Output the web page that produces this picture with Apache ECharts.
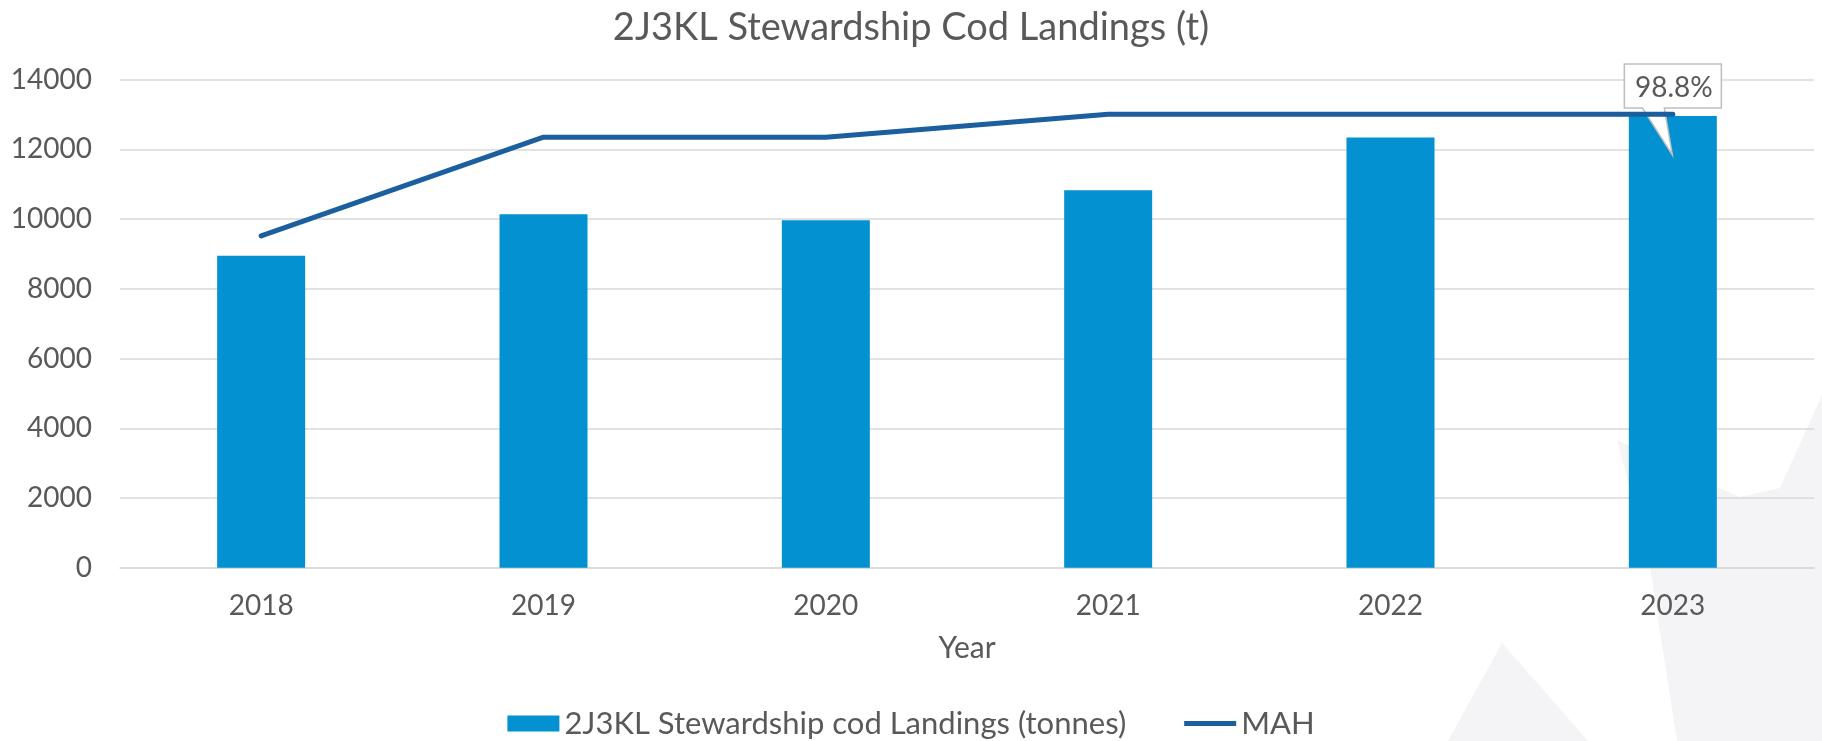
<!DOCTYPE html>
<html>
<head>
<meta charset="utf-8">
<script src="https://cdn.jsdelivr.net/npm/echarts@6/dist/echarts.min.js"></script>
<style>
  html, body { margin: 0; padding: 0; background: #fff; }
  #main { width: 1822px; height: 741px; }
</style>
</head>
<body>
<div id="main"></div>
<script>
// data
const years = ['2018', '2019', '2020', '2021', '2022', '2023'];
const landings = [8950, 10140, 9970, 10830, 12340, 12960];
const mah = [9520, 12350, 12350, 13010, 13010, 13010];
const yTicks = { min: 0, max: 14000, interval: 2000 };
// callout on the last bar
const calloutYear = '2023';
const calloutValue = 11840;
const calloutText = '98.8%';

const FONT = 'Lato';
const TXT = '#595959';

const chart = echarts.init(document.getElementById('main'));

chart.setOption({
  animation: false,
  backgroundColor: '#fff',
  textStyle: { fontFamily: FONT, color: TXT },
  // faint watermark shapes behind the plot
  graphic: [
    {
      type: 'polygon', z: -10, silent: true,
      shape: { points: [[1617, 440], [1700, 480], [1740, 497], [1780, 488], [1822, 395], [1822, 741], [1677, 741], [1650, 567]] },
      style: { fill: '#f4f4f6' }
    },
    {
      type: 'polygon', z: -10, silent: true,
      shape: { points: [[1502, 643], [1588, 741], [1448, 741]] },
      style: { fill: '#f4f4f6' }
    }
  ],
  title: {
    text: '2J3KL Stewardship Cod Landings (t)',
    left: 'center',
    top: 4,
    textStyle: { fontFamily: FONT, fontSize: 38, fontWeight: 'normal', color: TXT }
  },
  legend: {
    top: 703,
    left: 'center',
    itemWidth: 52,
    itemHeight: 16,
    itemGap: 58,
    textStyle: { fontFamily: FONT, fontSize: 31, color: TXT },
    data: [
      { name: '2J3KL Stewardship cod Landings (tonnes)', icon: 'rect' },
      { name: 'MAH', icon: 'path://M0,0L52,0L52,5L0,5Z', itemStyle: { color: '#1b5f9e' } }
    ]
  },
  grid: {
    left: 120, right: 8, top: 79.7, bottom: 173.3,
    containLabel: false,
    outerBoundsMode: 'none'
  },
  xAxis: {
    type: 'category',
    data: years,
    name: 'Year',
    nameLocation: 'middle',
    nameGap: 66,
    nameTextStyle: { fontFamily: FONT, fontSize: 30, color: TXT },
    axisTick: { show: false },
    axisLine: { lineStyle: { color: '#d9d9d9', width: 1.5 } },
    axisLabel: { fontFamily: FONT, fontSize: 28, color: TXT, margin: 24 }
  },
  yAxis: {
    type: 'value',
    min: yTicks.min,
    max: yTicks.max,
    interval: yTicks.interval,
    axisLine: { show: false },
    axisTick: { show: false },
    axisLabel: { fontFamily: FONT, fontSize: 28, color: TXT, margin: 28, formatter: v => String(v) },
    splitLine: { lineStyle: { color: '#d9d9d9', width: 1.5 } }
  },
  series: [
    {
      name: '2J3KL Stewardship cod Landings (tonnes)',
      type: 'bar',
      data: landings,
      barWidth: 88,
      itemStyle: { color: '#0391d1' },
      z: 2,
      markPoint: {
        silent: true,
        data: [{
          coord: [calloutYear, calloutValue],
          symbol: 'path://M0,0L97,0L97,44L40,44L48,91L18,44L0,44Z',
          symbolSize: [97, 91],
          symbolKeepAspect: false,
          symbolOffset: [0, -45.5],
          itemStyle: { color: '#ffffff', borderColor: '#bfbfbf', borderWidth: 1.5 },
          label: {
            show: true,
            position: 'inside',
            offset: [1, -21.5],
            formatter: calloutText,
            fontFamily: FONT,
            fontSize: 28,
            color: TXT
          }
        }]
      }
    },
    {
      name: 'MAH',
      type: 'line',
      data: mah,
      symbol: 'none',
      z: 5,
      lineStyle: { color: '#1b5f9e', width: 5, cap: 'round', join: 'round' },
      itemStyle: { color: '#1b5f9e' }
    }
  ]
});
</script>
</body>
</html>
